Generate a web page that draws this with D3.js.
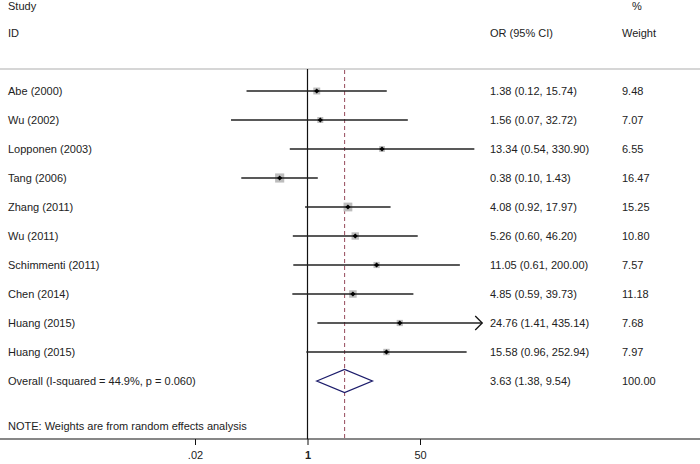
<!DOCTYPE html>
<html><head><meta charset="utf-8">
<script src="https://cdn.jsdelivr.net/npm/d3@7"></script>
<style>body{margin:0;background:#fff}svg{display:block}text{font-family:"Liberation Sans",Arial,sans-serif;font-size:11px;fill:#222}</style>
</head><body><svg id="c" width="700" height="464"></svg>
<script>
const studies = ["Abe (2000)","Wu (2002)","Lopponen (2003)","Tang (2006)","Zhang (2011)","Wu (2011)","Schimmenti (2011)","Chen (2014)","Huang (2015)","Huang (2015)"];
const or = [1.38,1.56,13.34,0.38,4.08,5.26,11.05,4.85,24.76,15.58];
const lower = [0.12,0.07,0.54,0.10,0.92,0.60,0.61,0.59,1.41,0.96];
const upper = [15.74,32.72,330.90,1.43,17.97,46.20,200.00,39.73,435.14,252.94];
const weights = [9.48,7.07,6.55,16.47,15.25,10.80,7.57,11.18,7.68,7.97];
const overall = {label:"Overall  (I-squared = 44.9%, p = 0.060)", or:3.63, lower:1.38, upper:9.54, weight:100.00};
const tickVals = [0.02,1,50];
const tickLabels = [".02","1","50"];
const arrowUpper = [false,false,false,false,false,false,false,false,true,false];

const svg = d3.select("#c");
const x = d3.scaleLog().domain([0.02,50]).range([195,420]);
const rowY = d3.scaleLinear().domain([0,10]).range([91,381]);
const fmt = d3.format(".2f");

// headers
svg.append("text").attr("x",8).attr("y",10).text("Study");
svg.append("text").attr("x",8).attr("y",37).text("ID");
svg.append("text").attr("x",632).attr("y",10).text("%");
svg.append("text").attr("x",490).attr("y",37).text("OR (95% CI)");
svg.append("text").attr("x",622).attr("y",37).text("Weight");

svg.append("line").attr("x1",0).attr("x2",700).attr("y1",69).attr("y2",69).attr("stroke","#c8c8c8").attr("stroke-width",1.5);

// null line
svg.append("line").attr("x1",x(1)).attr("x2",x(1)).attr("y1",69).attr("y2",439).attr("stroke","#111").attr("stroke-width",1.2);
// overall dashed
svg.append("line").attr("x1",x(overall.or)).attr("x2",x(overall.or)).attr("y1",70).attr("y2",439)
  .attr("stroke","#a05a6a").attr("stroke-width",1.1).attr("stroke-dasharray","4,3");

const rows = studies.map((s,i)=>({s,or:or[i],lo:lower[i],hi:upper[i],w:weights[i],arrow:arrowUpper[i],y:rowY(i)}));
const g = svg.append("g");
rows.forEach(d=>{
  const side = 2.25*Math.sqrt(d.w);
  g.append("rect").attr("x",x(d.or)-side/2).attr("y",d.y-side/2).attr("width",side).attr("height",side).attr("fill","#bdbdbd");
  g.append("line").attr("x1",x(d.lo)).attr("x2",x(d.hi)).attr("y1",d.y).attr("y2",d.y).attr("stroke","#222").attr("stroke-width",1.4);
  if(d.arrow){
    const xe = x(d.hi);
    g.append("path").attr("d",`M${xe-7},${d.y-7}L${xe},${d.y}L${xe-7},${d.y+7}`).attr("fill","none").attr("stroke","#111").attr("stroke-width",1.3);
  }
  const cx=x(d.or);
  g.append("path").attr("d",`M${cx-2.6},${d.y}L${cx},${d.y-2.6}L${cx+2.6},${d.y}L${cx},${d.y+2.6}Z`).attr("fill","#000");
  g.append("text").attr("x",8).attr("y",d.y+4).text(d.s);
  g.append("text").attr("x",490).attr("y",d.y+4).text(`${fmt(d.or)} (${fmt(d.lo)}, ${fmt(d.hi)})`);
  g.append("text").attr("x",622).attr("y",d.y+4).text(fmt(d.w));
});

// overall
const oy = rowY(10);
svg.append("path").attr("d",`M${x(overall.lower)},${oy}L${x(overall.or)},${oy-11.5}L${x(overall.upper)},${oy}L${x(overall.or)},${oy+11.5}Z`)
  .attr("fill","none").attr("stroke","#1c1c6b").attr("stroke-width",1.3);
svg.append("text").attr("x",8).attr("y",oy+4).text(overall.label);
svg.append("text").attr("x",490).attr("y",oy+4).text(`${fmt(overall.or)} (${fmt(overall.lower)}, ${fmt(overall.upper)})`);
svg.append("text").attr("x",622).attr("y",oy+4).text(fmt(overall.weight));

svg.append("text").attr("x",8).attr("y",430).text("NOTE: Weights are from random effects analysis");

// axis
svg.append("line").attr("x1",0).attr("x2",700).attr("y1",439).attr("y2",439).attr("stroke","#111").attr("stroke-width",1.2);
const ax = svg.append("g").attr("transform","translate(0,439)")
  .call(d3.axisBottom(x).tickValues(tickVals).tickFormat((d,i)=>tickLabels[i]).tickSize(6).tickPadding(6));
ax.select(".domain").remove();
ax.selectAll("line").attr("stroke","#111");
ax.selectAll("text").attr("font-family","Liberation Sans, Arial, sans-serif").attr("font-size","11px").attr("fill","#222");
ax.selectAll("text").filter((d,i)=>tickLabels[i]==="1").attr("font-weight","bold");
</script></body></html>
